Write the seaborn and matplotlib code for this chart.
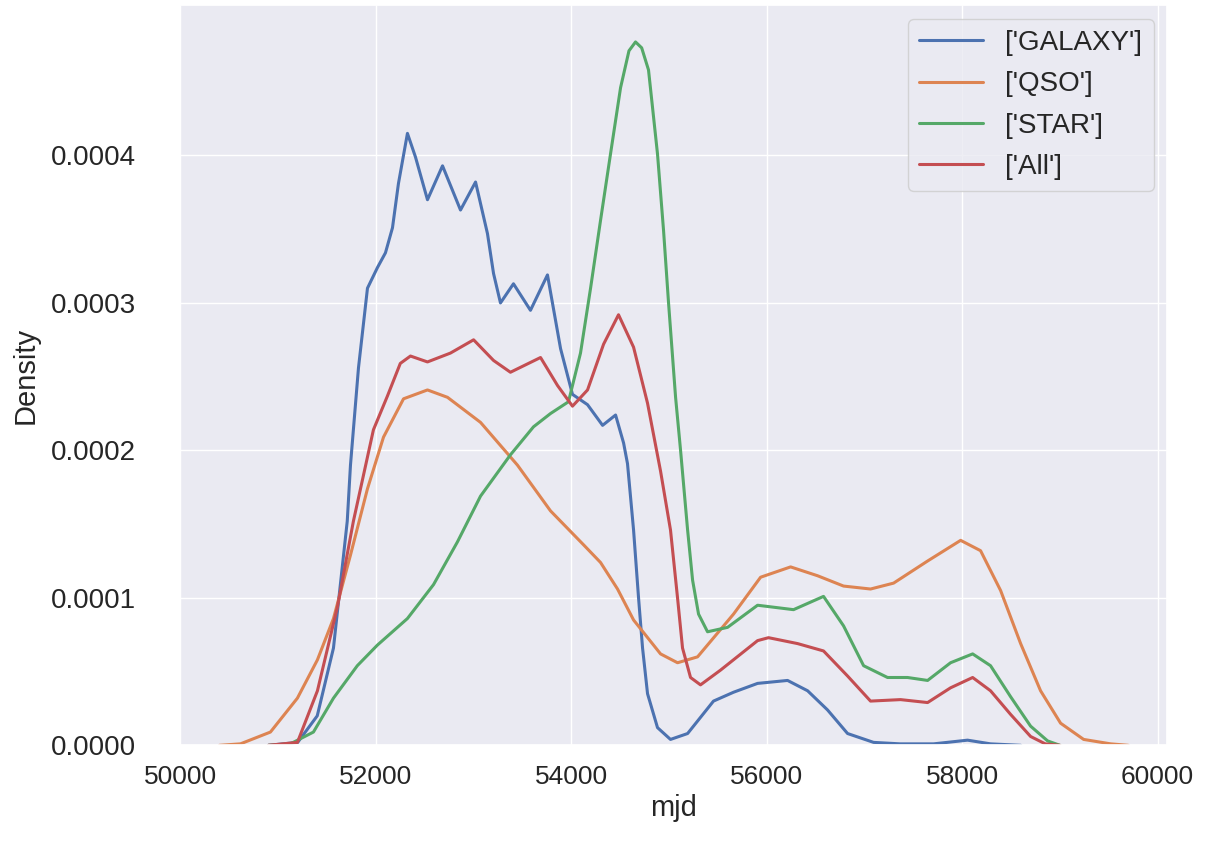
import matplotlib
matplotlib.use("Agg")
import matplotlib.pyplot as plt
import seaborn as sns
import numpy as np
import pandas as pd

sns.set_theme(style="darkgrid")
plt.rcParams["font.family"] = ["Liberation Sans", "DejaVu Sans"]

# values (mjd, density)
galaxy_mjd = [50900, 51200, 51400, 51566, 51707, 51740, 51822, 51914, 52016, 52098,
              52170, 52231, 52323, 52405, 52528, 52682, 52866, 53020, 53142, 53204,
              53275, 53408, 53582, 53756, 53890, 54012, 54166, 54320, 54453, 54535,
              54575, 54637, 54688, 54729, 54780, 54882, 55015, 55190, 55455, 55660,
              55906, 56213, 56418, 56622, 56827, 57093, 57365, 57707, 58055, 58290,
              58600]
galaxy_density = [0.0, 0.000002, 0.00002, 0.000066, 0.000152, 0.00019, 0.000256, 0.00031,
                  0.000324, 0.000334, 0.000351, 0.000381, 0.000415, 0.000399, 0.00037,
                  0.000393, 0.000363, 0.000382, 0.000347, 0.00032, 0.0003, 0.000313,
                  0.000295, 0.000319, 0.000269, 0.000238, 0.000231, 0.000217, 0.000224,
                  0.000205, 0.000191, 0.000146, 0.0001, 0.000066, 0.000035, 0.000012,
                  0.000004, 0.000008, 0.00003, 0.000036, 0.000042, 0.000044, 0.000037,
                  0.000024, 0.000008, 0.000002, 0.000001, 0.000001, 0.0000035, 0.000001,
                  0.0]

qso_mjd = [50400, 50614, 50921, 51197, 51402, 51566, 51740, 51914, 52078, 52283,
           52528, 52733, 53071, 53449, 53787, 54125, 54299, 54473, 54637, 54913,
           55087, 55292, 55660, 55937, 56244, 56520, 56786, 57062, 57298, 57646,
           57984, 58188, 58393, 58598, 58802, 59007, 59243, 59519, 59700]
qso_density = [0.0, 0.000001, 0.000009, 0.000032, 0.000058, 0.000086, 0.000129, 0.000174,
               0.000209, 0.000235, 0.000241, 0.000236, 0.000219, 0.00019, 0.000159,
               0.000136, 0.000124, 0.000106, 0.000085, 0.000062, 0.000056, 0.00006,
               0.000089, 0.000114, 0.000121, 0.000115, 0.000108, 0.000106, 0.00011,
               0.000125, 0.000139, 0.000132, 0.000105, 0.000069, 0.000037, 0.000015,
               0.000004, 0.000001, 0.0]

star_mjd = [50900, 51125, 51361, 51566, 51810, 52016, 52323, 52590, 52835, 53071,
            53377, 53613, 53787, 53971, 54094, 54197, 54299, 54401, 54504, 54590,
            54657, 54720, 54790, 54882, 54944, 54995, 55067, 55118, 55190, 55241,
            55302, 55394, 55599, 55906, 56274, 56581, 56786, 56991, 57236, 57441,
            57646, 57881, 58107, 58290, 58495, 58700, 58874, 59000]
star_density = [0.0, 0.000001, 0.000009, 0.000032, 0.000054, 0.000068, 0.000086, 0.000109,
                0.000138, 0.000169, 0.000197, 0.000216, 0.000225, 0.000233, 0.000266,
                0.00031, 0.000356, 0.000401, 0.000446, 0.000471, 0.000477, 0.000473,
                0.000458, 0.000401, 0.000349, 0.0003, 0.000236, 0.0002, 0.000146,
                0.000112, 0.000089, 0.000077, 0.00008, 0.000095, 0.000092, 0.000101,
                0.000081, 0.000054, 0.000046, 0.000046, 0.000044, 0.000056, 0.000062,
                0.000054, 0.000033, 0.000013, 0.000003, 0.0]

all_mjd = [50900, 51197, 51402, 51607, 51770, 51975, 52119, 52250, 52354, 52528,
           52763, 53000, 53204, 53377, 53685, 53859, 54012, 54166, 54330, 54483,
           54637, 54780, 54913, 55015, 55087, 55138, 55220, 55322, 55527, 55906,
           56018, 56315, 56581, 56827, 57062, 57369, 57646, 57881, 58107, 58290,
           58495, 58700, 58850, 59000]
all_density = [0.0, 0.000002, 0.000037, 0.000094, 0.000152, 0.000214, 0.000237, 0.000259,
               0.000264, 0.00026, 0.000266, 0.000275, 0.000261, 0.000253, 0.000263,
               0.000244, 0.00023, 0.000241, 0.000272, 0.000292, 0.00027, 0.000232,
               0.000186, 0.000146, 0.0001, 0.000066, 0.000046, 0.000041, 0.000051,
               0.000071, 0.000073, 0.000069, 0.000064, 0.000047, 0.00003, 0.000031,
               0.000029, 0.000039, 0.000046, 0.000037, 0.000021, 0.000006, 0.000001,
               0.0]

labels = ["['GALAXY']", "['QSO']", "['STAR']", "['All']"]

frames = []
for lab, xs, ys in zip(labels,
                       [galaxy_mjd, qso_mjd, star_mjd, all_mjd],
                       [galaxy_density, qso_density, star_density, all_density]):
    frames.append(pd.DataFrame({"mjd": xs, "Density": ys, "class": lab}))
df = pd.concat(frames, ignore_index=True)

fig, ax = plt.subplots(figsize=(12.11, 8.46), dpi=100)
sns.lineplot(data=df, x="mjd", y="Density", hue="class", estimator=None,
             linewidth=2.2, ax=ax)

ax.set_xlim(50000, 60100)
ax.set_ylim(0, 0.000502)
ax.set_xticks([50000, 52000, 54000, 56000, 58000, 60000])
ax.set_yticks([0.0, 0.0001, 0.0002, 0.0003, 0.0004])
ax.set_yticklabels(["0.0000", "0.0001", "0.0002", "0.0003", "0.0004"])
ax.tick_params(axis="y", labelsize=20, pad=26)
ax.tick_params(axis="x", labelsize=19, pad=8)
ax.set_xlabel("mjd", fontsize=21)
ax.set_ylabel("Density", fontsize=21, labelpad=8)
ax.legend(title=None, loc="upper right", fontsize=20, labelspacing=0.55,
          handlelength=2.3)

plt.subplots_adjust(left=0.149, right=0.964, top=0.994, bottom=0.119)
plt.savefig("out.png", dpi=100)
